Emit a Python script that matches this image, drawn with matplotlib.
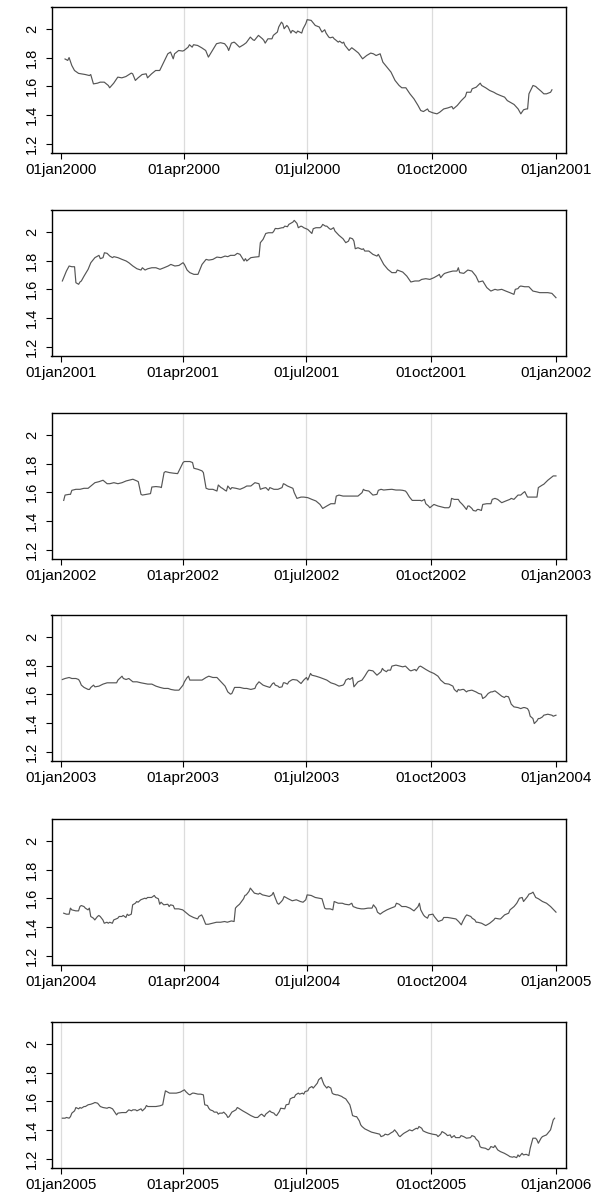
import matplotlib
matplotlib.use("Agg")
import matplotlib.pyplot as plt
import pandas as pd
import numpy as np

plt.rcParams['font.family'] = ['Liberation Sans', 'DejaVu Sans']

# Daily series, one panel per year: offsets are days after 1 January
days_2000 = [3, 5, 6, 8, 10, 13, 15, 18, 21, 22, 24, 27, 29, 32, 35, 36, 39, 42, 45, 48, 52, 53, 55, 57, 60, 63, 64, 67, 70, 73, 76, 79, 81, 83, 84, 87, 90, 91, 94, 95, 97, 98, 101, 104, 107, 109, 112, 115, 118, 121, 123, 124, 126, 128, 129, 132, 135, 137, 140, 142, 143, 146, 149, 150, 151, 153, 156, 157, 160, 161, 163, 164, 165, 167, 168, 170, 171, 172, 174, 175, 178, 179, 181, 182, 185, 186, 188, 191, 192, 193, 195, 196, 198, 199, 201, 202, 203, 205, 206, 208, 209, 210, 213, 215, 217, 220, 223, 226, 229, 231, 233, 236, 238, 241, 244, 247, 250, 252, 255, 258, 261, 264, 266, 268, 271, 272, 275, 278, 280, 283, 286, 289, 290, 293, 296, 299, 300, 303, 304, 307, 310, 311, 314, 317, 320, 322, 325, 328, 330, 332, 335, 338, 340, 342, 344, 345, 346, 349, 351, 352, 355, 357, 359, 362, 363]
vals_2000 = [1.79, 1.78, 1.80, 1.745, 1.71, 1.69, 1.687, 1.682, 1.675, 1.682, 1.617, 1.622, 1.629, 1.629, 1.606, 1.59, 1.622, 1.664, 1.659, 1.668, 1.692, 1.687, 1.641, 1.659, 1.682, 1.687, 1.659, 1.687, 1.71, 1.71, 1.768, 1.826, 1.838, 1.791, 1.826, 1.849, 1.845, 1.849, 1.872, 1.889, 1.872, 1.889, 1.884, 1.868, 1.849, 1.803, 1.849, 1.896, 1.903, 1.896, 1.872, 1.849, 1.90, 1.907, 1.90, 1.872, 1.889, 1.903, 1.942, 1.923, 1.919, 1.954, 1.93, 1.919, 1.90, 1.93, 1.93, 1.954, 1.977, 2.012, 2.046, 2.035, 2.0, 2.023, 2.012, 1.97, 1.988, 1.984, 1.97, 1.984, 1.97, 2.0, 2.035, 2.063, 2.058, 2.046, 2.023, 2.012, 1.993, 1.977, 1.993, 1.97, 1.942, 1.937, 1.942, 1.93, 1.923, 1.907, 1.914, 1.90, 1.907, 1.884, 1.849, 1.868, 1.854, 1.831, 1.791, 1.814, 1.831, 1.826, 1.814, 1.826, 1.768, 1.733, 1.699, 1.641, 1.606, 1.59, 1.59, 1.548, 1.513, 1.467, 1.432, 1.425, 1.443, 1.427, 1.416, 1.409, 1.42, 1.443, 1.45, 1.46, 1.443, 1.467, 1.501, 1.529, 1.559, 1.559, 1.583, 1.594, 1.622, 1.606, 1.59, 1.571, 1.559, 1.548, 1.536, 1.525, 1.501, 1.49, 1.474, 1.443, 1.409, 1.437, 1.443, 1.443, 1.548, 1.606, 1.599, 1.59, 1.566, 1.548, 1.548, 1.559, 1.576]

days_2001 = [1, 4, 6, 8, 10, 11, 13, 14, 15, 17, 20, 22, 25, 28, 29, 31, 32, 34, 36, 38, 39, 42, 45, 48, 50, 53, 56, 59, 60, 62, 64, 67, 70, 73, 76, 79, 81, 84, 87, 90, 91, 93, 95, 98, 101, 102, 104, 107, 109, 112, 115, 118, 121, 123, 125, 128, 130, 132, 135, 136, 137, 140, 143, 146, 147, 149, 151, 153, 156, 157, 158, 160, 163, 164, 165, 167, 168, 170, 171, 172, 174, 175, 177, 178, 179, 182, 184, 185, 186, 188, 191, 192, 193, 195, 196, 198, 199, 201, 202, 205, 208, 210, 212, 213, 215, 216, 217, 219, 222, 223, 224, 227, 230, 233, 234, 236, 238, 241, 244, 247, 248, 250, 252, 255, 258, 261, 264, 266, 269, 272, 275, 278, 279, 280, 282, 283, 286, 289, 292, 293, 294, 297, 300, 303, 306, 308, 311, 314, 317, 320, 322, 325, 328, 331, 334, 335, 337, 338, 339, 342, 345, 348, 351, 353, 356, 359, 362, 365]
vals_2001 = [1.658, 1.727, 1.762, 1.757, 1.757, 1.646, 1.635, 1.651, 1.658, 1.692, 1.739, 1.785, 1.82, 1.836, 1.813, 1.82, 1.854, 1.85, 1.831, 1.82, 1.827, 1.82, 1.808, 1.797, 1.785, 1.762, 1.743, 1.734, 1.75, 1.734, 1.743, 1.75, 1.75, 1.739, 1.75, 1.762, 1.773, 1.762, 1.766, 1.785, 1.773, 1.734, 1.716, 1.704, 1.704, 1.727, 1.773, 1.808, 1.803, 1.808, 1.824, 1.82, 1.831, 1.827, 1.836, 1.836, 1.85, 1.843, 1.797, 1.813, 1.797, 1.82, 1.824, 1.827, 1.924, 1.947, 1.988, 1.993, 1.993, 2.005, 2.023, 2.021, 2.028, 2.028, 2.039, 2.035, 2.051, 2.062, 2.067, 2.079, 2.058, 2.028, 2.039, 2.035, 2.028, 2.016, 1.998, 1.988, 2.021, 2.028, 2.028, 2.035, 2.051, 2.039, 2.039, 2.021, 2.016, 2.028, 2.005, 1.975, 1.951, 1.924, 1.935, 1.958, 1.951, 1.935, 1.882, 1.889, 1.877, 1.882, 1.866, 1.866, 1.843, 1.831, 1.843, 1.808, 1.773, 1.739, 1.716, 1.716, 1.734, 1.727, 1.72, 1.692, 1.651, 1.658, 1.658, 1.669, 1.674, 1.669, 1.681, 1.697, 1.704, 1.681, 1.704, 1.711, 1.72, 1.727, 1.727, 1.75, 1.716, 1.711, 1.734, 1.727, 1.692, 1.651, 1.658, 1.612, 1.588, 1.60, 1.595, 1.60, 1.588, 1.577, 1.565, 1.60, 1.605, 1.618, 1.623, 1.618, 1.618, 1.588, 1.582, 1.577, 1.577, 1.577, 1.572, 1.542]

days_2002 = [2, 3, 6, 7, 8, 11, 14, 17, 20, 22, 25, 28, 31, 34, 36, 39, 42, 45, 48, 50, 53, 56, 57, 59, 60, 63, 66, 67, 70, 73, 74, 76, 77, 80, 83, 86, 87, 90, 91, 93, 95, 97, 98, 101, 104, 105, 107, 109, 112, 115, 116, 118, 119, 121, 122, 123, 125, 126, 129, 132, 135, 137, 140, 143, 146, 147, 149, 151, 153, 154, 157, 160, 163, 164, 165, 167, 168, 171, 172, 174, 177, 179, 182, 185, 188, 191, 193, 196, 199, 202, 203, 205, 208, 210, 213, 216, 219, 222, 223, 224, 227, 230, 233, 234, 236, 238, 241, 244, 247, 250, 252, 254, 255, 257, 259, 262, 265, 266, 268, 269, 271, 272, 275, 278, 280, 283, 286, 287, 288, 290, 293, 294, 296, 297, 299, 300, 301, 303, 304, 306, 307, 308, 310, 311, 314, 317, 318, 320, 322, 325, 328, 331, 332, 334, 337, 339, 341, 342, 344, 346, 349, 351, 352, 355, 356, 359, 362, 363, 365]
vals_2002 = [1.544, 1.581, 1.586, 1.586, 1.614, 1.621, 1.621, 1.628, 1.628, 1.644, 1.667, 1.674, 1.684, 1.66, 1.66, 1.667, 1.66, 1.667, 1.679, 1.684, 1.691, 1.679, 1.674, 1.586, 1.581, 1.586, 1.591, 1.637, 1.64, 1.637, 1.633, 1.737, 1.744, 1.737, 1.733, 1.73, 1.749, 1.807, 1.814, 1.814, 1.814, 1.807, 1.767, 1.76, 1.749, 1.737, 1.628, 1.621, 1.621, 1.609, 1.651, 1.633, 1.628, 1.614, 1.609, 1.644, 1.621, 1.633, 1.628, 1.621, 1.633, 1.644, 1.644, 1.667, 1.66, 1.621, 1.628, 1.633, 1.614, 1.633, 1.621, 1.621, 1.633, 1.66, 1.656, 1.644, 1.64, 1.628, 1.598, 1.558, 1.567, 1.567, 1.563, 1.551, 1.54, 1.516, 1.488, 1.505, 1.521, 1.521, 1.574, 1.581, 1.574, 1.574, 1.574, 1.574, 1.574, 1.598, 1.621, 1.614, 1.609, 1.581, 1.586, 1.614, 1.621, 1.616, 1.619, 1.621, 1.616, 1.616, 1.614, 1.609, 1.598, 1.567, 1.544, 1.544, 1.544, 1.54, 1.551, 1.521, 1.505, 1.493, 1.516, 1.505, 1.50, 1.493, 1.493, 1.505, 1.558, 1.551, 1.551, 1.535, 1.516, 1.505, 1.481, 1.505, 1.505, 1.488, 1.474, 1.47, 1.481, 1.481, 1.474, 1.516, 1.521, 1.521, 1.551, 1.558, 1.551, 1.528, 1.54, 1.551, 1.558, 1.551, 1.581, 1.581, 1.598, 1.605, 1.567, 1.567, 1.567, 1.567, 1.633, 1.651, 1.656, 1.684, 1.707, 1.714, 1.714]

days_2003 = [1, 3, 6, 8, 11, 13, 14, 15, 17, 20, 21, 22, 24, 25, 28, 31, 34, 36, 39, 41, 42, 45, 46, 48, 50, 53, 56, 59, 62, 64, 67, 70, 73, 76, 79, 81, 84, 87, 88, 90, 91, 93, 94, 95, 98, 101, 104, 107, 109, 112, 115, 118, 121, 123, 125, 126, 128, 129, 132, 135, 137, 140, 143, 144, 146, 149, 151, 154, 156, 157, 158, 160, 161, 163, 164, 165, 167, 168, 170, 171, 174, 177, 179, 181, 182, 184, 185, 188, 191, 193, 196, 199, 202, 205, 208, 209, 210, 212, 213, 215, 216, 217, 219, 222, 224, 226, 227, 230, 233, 236, 237, 238, 240, 241, 243, 244, 247, 250, 252, 254, 255, 257, 258, 261, 262, 264, 265, 266, 269, 272, 275, 278, 280, 283, 286, 289, 290, 292, 293, 294, 296, 297, 299, 300, 303, 306, 308, 310, 311, 313, 314, 315, 317, 318, 320, 321, 322, 325, 327, 328, 330, 331, 332, 334, 337, 339, 341, 342, 344, 345, 346, 348, 349, 351, 352, 353, 355, 356, 359, 362, 363, 365]
vals_2003 = [1.703, 1.71, 1.717, 1.71, 1.71, 1.703, 1.687, 1.664, 1.648, 1.634, 1.634, 1.648, 1.664, 1.652, 1.657, 1.671, 1.68, 1.68, 1.68, 1.68, 1.699, 1.726, 1.71, 1.703, 1.71, 1.687, 1.687, 1.68, 1.675, 1.671, 1.671, 1.657, 1.648, 1.641, 1.641, 1.634, 1.629, 1.629, 1.641, 1.664, 1.687, 1.717, 1.726, 1.699, 1.699, 1.699, 1.699, 1.717, 1.726, 1.717, 1.717, 1.687, 1.657, 1.617, 1.601, 1.606, 1.648, 1.648, 1.648, 1.641, 1.641, 1.634, 1.641, 1.664, 1.687, 1.664, 1.657, 1.648, 1.675, 1.68, 1.664, 1.657, 1.648, 1.652, 1.68, 1.68, 1.671, 1.687, 1.699, 1.703, 1.699, 1.675, 1.699, 1.717, 1.699, 1.745, 1.733, 1.726, 1.717, 1.71, 1.699, 1.68, 1.671, 1.657, 1.664, 1.675, 1.699, 1.71, 1.703, 1.717, 1.652, 1.664, 1.687, 1.699, 1.726, 1.757, 1.768, 1.763, 1.733, 1.757, 1.78, 1.768, 1.757, 1.768, 1.768, 1.796, 1.803, 1.796, 1.791, 1.796, 1.787, 1.768, 1.763, 1.773, 1.763, 1.791, 1.796, 1.791, 1.773, 1.757, 1.745, 1.726, 1.699, 1.675, 1.671, 1.657, 1.634, 1.617, 1.634, 1.629, 1.634, 1.634, 1.617, 1.624, 1.629, 1.617, 1.606, 1.601, 1.571, 1.583, 1.594, 1.606, 1.617, 1.617, 1.624, 1.617, 1.61, 1.587, 1.578, 1.587, 1.583, 1.559, 1.532, 1.513, 1.508, 1.501, 1.508, 1.508, 1.501, 1.485, 1.448, 1.432, 1.397, 1.416, 1.432, 1.432, 1.443, 1.455, 1.462, 1.455, 1.448, 1.455]

days_2004 = [2, 4, 6, 7, 8, 11, 13, 14, 15, 17, 18, 20, 21, 22, 24, 25, 27, 28, 29, 31, 32, 34, 35, 36, 38, 39, 42, 43, 45, 46, 48, 49, 50, 52, 53, 55, 56, 57, 59, 62, 63, 64, 67, 69, 70, 72, 73, 74, 76, 79, 80, 81, 83, 84, 87, 90, 93, 95, 98, 101, 102, 104, 105, 107, 109, 112, 115, 118, 121, 123, 126, 128, 129, 130, 132, 135, 136, 137, 139, 140, 143, 146, 147, 149, 151, 154, 156, 157, 158, 160, 161, 163, 164, 165, 168, 171, 174, 177, 179, 181, 182, 185, 188, 191, 193, 195, 196, 199, 201, 202, 205, 208, 210, 213, 215, 216, 219, 222, 224, 227, 230, 231, 233, 234, 236, 238, 241, 244, 247, 248, 250, 252, 255, 258, 261, 264, 265, 266, 268, 269, 271, 272, 275, 276, 278, 279, 282, 283, 286, 289, 292, 294, 296, 297, 299, 300, 303, 304, 306, 307, 308, 311, 314, 315, 317, 320, 321, 324, 325, 328, 331, 332, 335, 337, 339, 341, 342, 344, 345, 346, 348, 349, 351, 353, 356, 359, 362, 365, 366]
vals_2004 = [1.497, 1.49, 1.49, 1.532, 1.52, 1.513, 1.513, 1.543, 1.55, 1.543, 1.532, 1.52, 1.532, 1.474, 1.462, 1.45, 1.474, 1.481, 1.474, 1.45, 1.427, 1.434, 1.427, 1.434, 1.427, 1.45, 1.462, 1.474, 1.474, 1.481, 1.467, 1.49, 1.481, 1.49, 1.555, 1.566, 1.578, 1.573, 1.59, 1.601, 1.597, 1.606, 1.606, 1.62, 1.606, 1.597, 1.559, 1.573, 1.555, 1.559, 1.543, 1.555, 1.55, 1.527, 1.527, 1.52, 1.497, 1.481, 1.467, 1.457, 1.474, 1.485, 1.467, 1.42, 1.42, 1.427, 1.434, 1.434, 1.439, 1.434, 1.443, 1.439, 1.532, 1.543, 1.559, 1.597, 1.62, 1.624, 1.648, 1.671, 1.636, 1.629, 1.636, 1.624, 1.62, 1.613, 1.624, 1.641, 1.613, 1.566, 1.559, 1.578, 1.59, 1.613, 1.597, 1.583, 1.59, 1.578, 1.573, 1.59, 1.624, 1.62, 1.606, 1.601, 1.597, 1.532, 1.527, 1.527, 1.52, 1.578, 1.566, 1.566, 1.559, 1.555, 1.566, 1.543, 1.532, 1.527, 1.527, 1.532, 1.532, 1.555, 1.532, 1.504, 1.49, 1.504, 1.52, 1.532, 1.543, 1.566, 1.559, 1.543, 1.543, 1.532, 1.513, 1.543, 1.566, 1.52, 1.485, 1.474, 1.462, 1.485, 1.49, 1.474, 1.45, 1.439, 1.45, 1.467, 1.467, 1.462, 1.457, 1.439, 1.416, 1.439, 1.474, 1.485, 1.474, 1.462, 1.45, 1.434, 1.434, 1.427, 1.411, 1.416, 1.427, 1.45, 1.462, 1.457, 1.457, 1.485, 1.497, 1.52, 1.543, 1.566, 1.601, 1.606, 1.578, 1.601, 1.613, 1.629, 1.636, 1.643, 1.606, 1.597, 1.578, 1.566, 1.543, 1.513, 1.504]

days_2005 = [1, 3, 4, 6, 7, 8, 10, 11, 13, 14, 15, 17, 18, 20, 22, 24, 25, 27, 28, 29, 31, 34, 35, 36, 38, 39, 41, 42, 45, 48, 50, 52, 53, 55, 56, 59, 60, 62, 63, 64, 67, 70, 73, 75, 76, 77, 78, 80, 83, 85, 88, 91, 92, 94, 95, 97, 98, 101, 103, 105, 106, 108, 109, 110, 112, 113, 115, 116, 117, 119, 120, 122, 123, 124, 126, 129, 130, 131, 134, 137, 140, 143, 145, 147, 148, 150, 151, 154, 155, 157, 158, 159, 161, 162, 165, 166, 168, 169, 171, 172, 173, 175, 176, 178, 179, 180, 182, 183, 185, 186, 187, 189, 190, 192, 193, 194, 196, 197, 199, 200, 201, 203, 204, 207, 208, 210, 211, 213, 214, 215, 217, 218, 220, 221, 222, 224, 227, 229, 232, 235, 236, 238, 239, 241, 242, 243, 245, 246, 248, 249, 250, 252, 253, 255, 256, 257, 259, 260, 262, 263, 264, 266, 267, 269, 271, 274, 277, 278, 280, 281, 283, 284, 285, 287, 288, 290, 291, 294, 295, 297, 299, 302, 303, 305, 306, 308, 309, 310, 313, 315, 316, 317, 319, 320, 322, 324, 327, 330, 331, 333, 334, 336, 337, 338, 340, 341, 343, 344, 345, 346, 347, 348, 350, 351, 352, 354, 355, 358, 359, 361, 362, 363, 364]
vals_2005 = [1.483, 1.483, 1.488, 1.483, 1.494, 1.518, 1.534, 1.557, 1.548, 1.557, 1.552, 1.564, 1.564, 1.576, 1.58, 1.587, 1.592, 1.587, 1.576, 1.564, 1.557, 1.552, 1.557, 1.557, 1.548, 1.534, 1.506, 1.518, 1.522, 1.522, 1.541, 1.534, 1.541, 1.541, 1.534, 1.548, 1.534, 1.552, 1.571, 1.564, 1.564, 1.564, 1.569, 1.576, 1.627, 1.673, 1.668, 1.657, 1.657, 1.657, 1.664, 1.68, 1.668, 1.65, 1.645, 1.657, 1.657, 1.65, 1.65, 1.645, 1.576, 1.571, 1.552, 1.541, 1.534, 1.525, 1.525, 1.511, 1.518, 1.518, 1.525, 1.506, 1.488, 1.494, 1.525, 1.541, 1.557, 1.552, 1.534, 1.518, 1.501, 1.488, 1.488, 1.506, 1.511, 1.494, 1.511, 1.534, 1.525, 1.518, 1.506, 1.501, 1.529, 1.552, 1.548, 1.576, 1.58, 1.617, 1.627, 1.627, 1.645, 1.657, 1.65, 1.657, 1.65, 1.668, 1.673, 1.692, 1.703, 1.692, 1.703, 1.726, 1.75, 1.766, 1.738, 1.715, 1.692, 1.703, 1.692, 1.657, 1.65, 1.645, 1.645, 1.634, 1.627, 1.617, 1.603, 1.576, 1.541, 1.501, 1.494, 1.494, 1.464, 1.437, 1.425, 1.409, 1.395, 1.386, 1.379, 1.372, 1.355, 1.362, 1.372, 1.367, 1.372, 1.379, 1.39, 1.402, 1.379, 1.362, 1.355, 1.372, 1.379, 1.39, 1.395, 1.402, 1.395, 1.402, 1.413, 1.409, 1.425, 1.413, 1.395, 1.386, 1.379, 1.372, 1.367, 1.355, 1.372, 1.39, 1.379, 1.372, 1.362, 1.367, 1.348, 1.362, 1.348, 1.348, 1.362, 1.355, 1.344, 1.348, 1.362, 1.355, 1.339, 1.321, 1.286, 1.279, 1.274, 1.263, 1.27, 1.286, 1.279, 1.293, 1.263, 1.251, 1.239, 1.223, 1.216, 1.212, 1.216, 1.209, 1.228, 1.216, 1.239, 1.228, 1.232, 1.228, 1.223, 1.274, 1.309, 1.344, 1.344, 1.332, 1.309, 1.344, 1.355, 1.367, 1.379, 1.402, 1.437, 1.471, 1.483]

years = [2000, 2001, 2002, 2003, 2004, 2005]
series_days = [days_2000, days_2001, days_2002, days_2003, days_2004, days_2005]
series_vals = [vals_2000, vals_2001, vals_2002, vals_2003, vals_2004, vals_2005]

y_ticks = [1.2, 1.4, 1.6, 1.8, 2.0]
y_tick_labels = ["1.2", "1.4", "1.6", "1.8", "2"]
quarter_starts = ["01-01", "04-01", "07-01", "10-01"]
jan_grid_years = [2003, 2005]   # years whose opening tick also carries a gridline

W, H = 595, 1194
fig = plt.figure(figsize=(W / 100, H / 100), dpi=100)
fig.patch.set_facecolor("white")

left_px, right_px = 51.5, 566
tops_px = [7, 210, 413, 615, 819, 1022]
panel_h = 146

for i, yr in enumerate(years):
    top = tops_px[i]
    ax = fig.add_axes([left_px / W, 1 - (top + panel_h) / H,
                       (right_px - left_px) / W, panel_h / H])
    start = pd.Timestamp(f"{yr}-01-01")
    dates = start + pd.to_timedelta(series_days[i], unit="D")

    ticks = [pd.Timestamp(f"{yr}-{q}") for q in quarter_starts] + [pd.Timestamp(f"{yr + 1}-01-01")]
    grid_ticks = ticks[1:4] + ([ticks[0]] if yr in jan_grid_years else [])
    for g in grid_ticks:
        ax.axvline(g, color="#dcdcdc", lw=0.9, zorder=1)

    ax.plot(dates, series_vals[i], color="#555555", lw=0.85, zorder=3)

    ax.set_xlim(ticks[0] - pd.Timedelta(days=7), ticks[-1] + pd.Timedelta(days=7.4))
    ax.set_ylim(1.137, 2.151)
    ax.set_xticks(ticks)
    ax.set_xticklabels([t.strftime("%d%b%Y").lower() for t in ticks], fontsize=11)
    ax.set_yticks(y_ticks)
    ax.set_yticklabels(y_tick_labels, fontsize=10.5, rotation=90, va="center")
    ax.tick_params(axis="both", direction="out", length=4, width=0.8, color="black")
    ax.tick_params(axis="x", pad=3)
    ax.tick_params(axis="y", pad=5)
    for s in ax.spines.values():
        s.set_linewidth(1.0)
        s.set_color("black")

fig.savefig("out.png", dpi=100, facecolor="white")
